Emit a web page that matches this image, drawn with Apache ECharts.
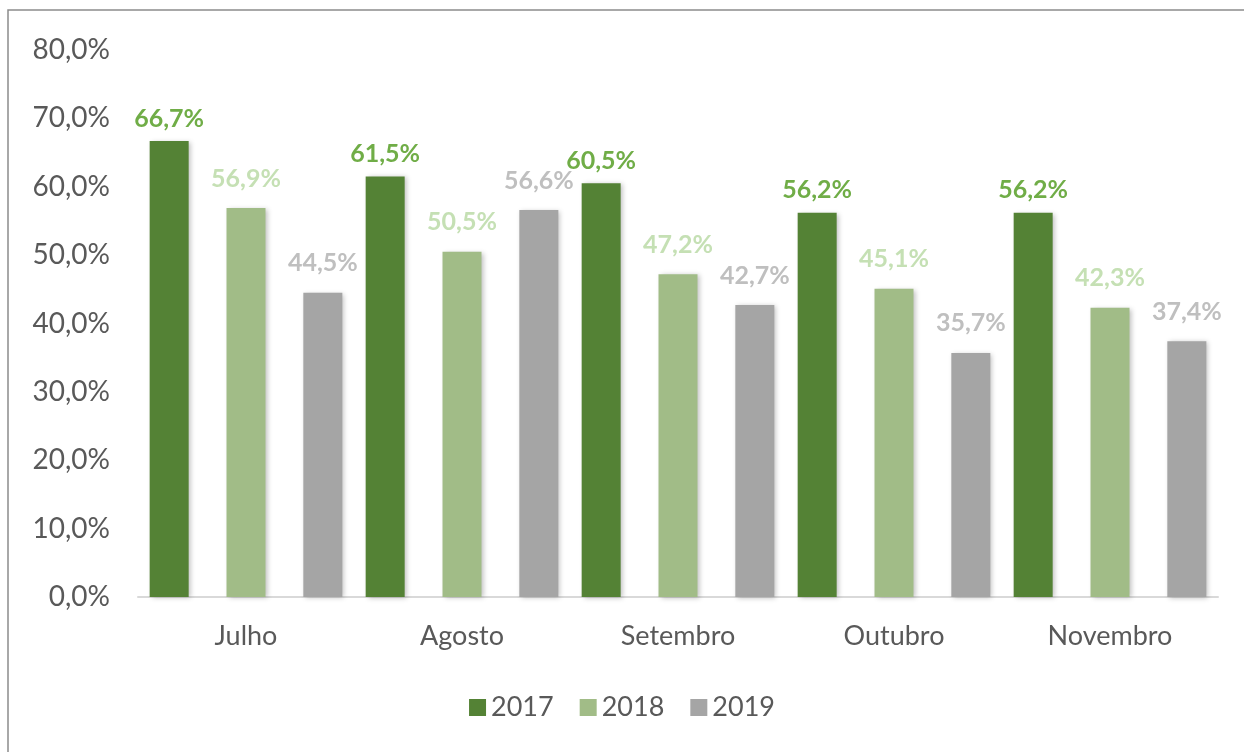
<!DOCTYPE html>
<html>
<head>
<meta charset="utf-8">
<script src="https://cdn.jsdelivr.net/npm/echarts@6/dist/echarts.min.js"></script>
<style>
  html, body { margin: 0; padding: 0; background: #fff; }
  #chart { width: 1244px; height: 752px; }
</style>
</head>
<body>
<div id="chart"></div>
<script>
const months = ['Julho', 'Agosto', 'Setembro', 'Outubro', 'Novembro']
const years = ['2017', '2018', '2019']
const values2017 = [66.7, 61.5, 60.5, 56.2, 56.2]
const values2018 = [56.9, 50.5, 47.2, 45.1, 42.3]
const values2019 = [44.5, 56.6, 42.7, 35.7, 37.4]

const barColors = ['#548235', '#A1BC87', '#A5A5A5']
const labelColors = ['#70AD47', '#C5E0B4', '#BFBFBF']
const FONT = 'Lato, "Open Sans", sans-serif'

const pct = v => v.toFixed(1).replace('.', ',') + '%'

const makeSeries = (name, data, i) => ({
  name,
  type: 'bar',
  data,
  barWidth: 39,
  barGap: '97%',
  itemStyle: {
    color: barColors[i],
    shadowBlur: 5,
    shadowOffsetX: 2,
    shadowOffsetY: 1,
    shadowColor: 'rgba(0,0,0,0.25)'
  },
  label: {
    show: true,
    position: 'top',
    distance: i === 0 ? 10 : 17,
    formatter: p => pct(p.value),
    color: labelColors[i],
    fontFamily: FONT,
    fontWeight: 'bold',
    fontSize: 25
  }
})

const chart = echarts.init(document.getElementById('chart'))

chart.setOption({
  animation: false,
  backgroundColor: '#fff',
  graphic: [{
    type: 'rect',
    shape: { x: 8, y: 10, width: 1400, height: 900 },
    style: { fill: 'none', stroke: '#8c8c8c', lineWidth: 1.5 },
    silent: true
  }],
  grid: { left: 138, right: 26, top: 50, bottom: 155 },
  legend: {
    bottom: 26,
    left: 'center',
    itemWidth: 17,
    itemHeight: 17,
    itemGap: 26,
    icon: 'rect',
    textStyle: { color: '#595959', fontSize: 27, fontFamily: FONT }
  },
  xAxis: {
    type: 'category',
    data: months,
    axisLine: { lineStyle: { color: '#D9D9D9', width: 2 } },
    axisTick: { show: false },
    axisLabel: { color: '#595959', fontSize: 27, fontFamily: FONT, margin: 26 }
  },
  yAxis: {
    type: 'value',
    min: 0,
    max: 80,
    interval: 10,
    splitLine: { show: false },
    axisLine: { show: false },
    axisTick: { show: false },
    axisLabel: {
      color: '#595959',
      fontSize: 28,
      fontFamily: FONT,
      margin: 28,
      formatter: v => pct(v)
    }
  },
  series: [
    makeSeries(years[0], values2017, 0),
    makeSeries(years[1], values2018, 1),
    makeSeries(years[2], values2019, 2)
  ]
})
</script>
</body>
</html>
